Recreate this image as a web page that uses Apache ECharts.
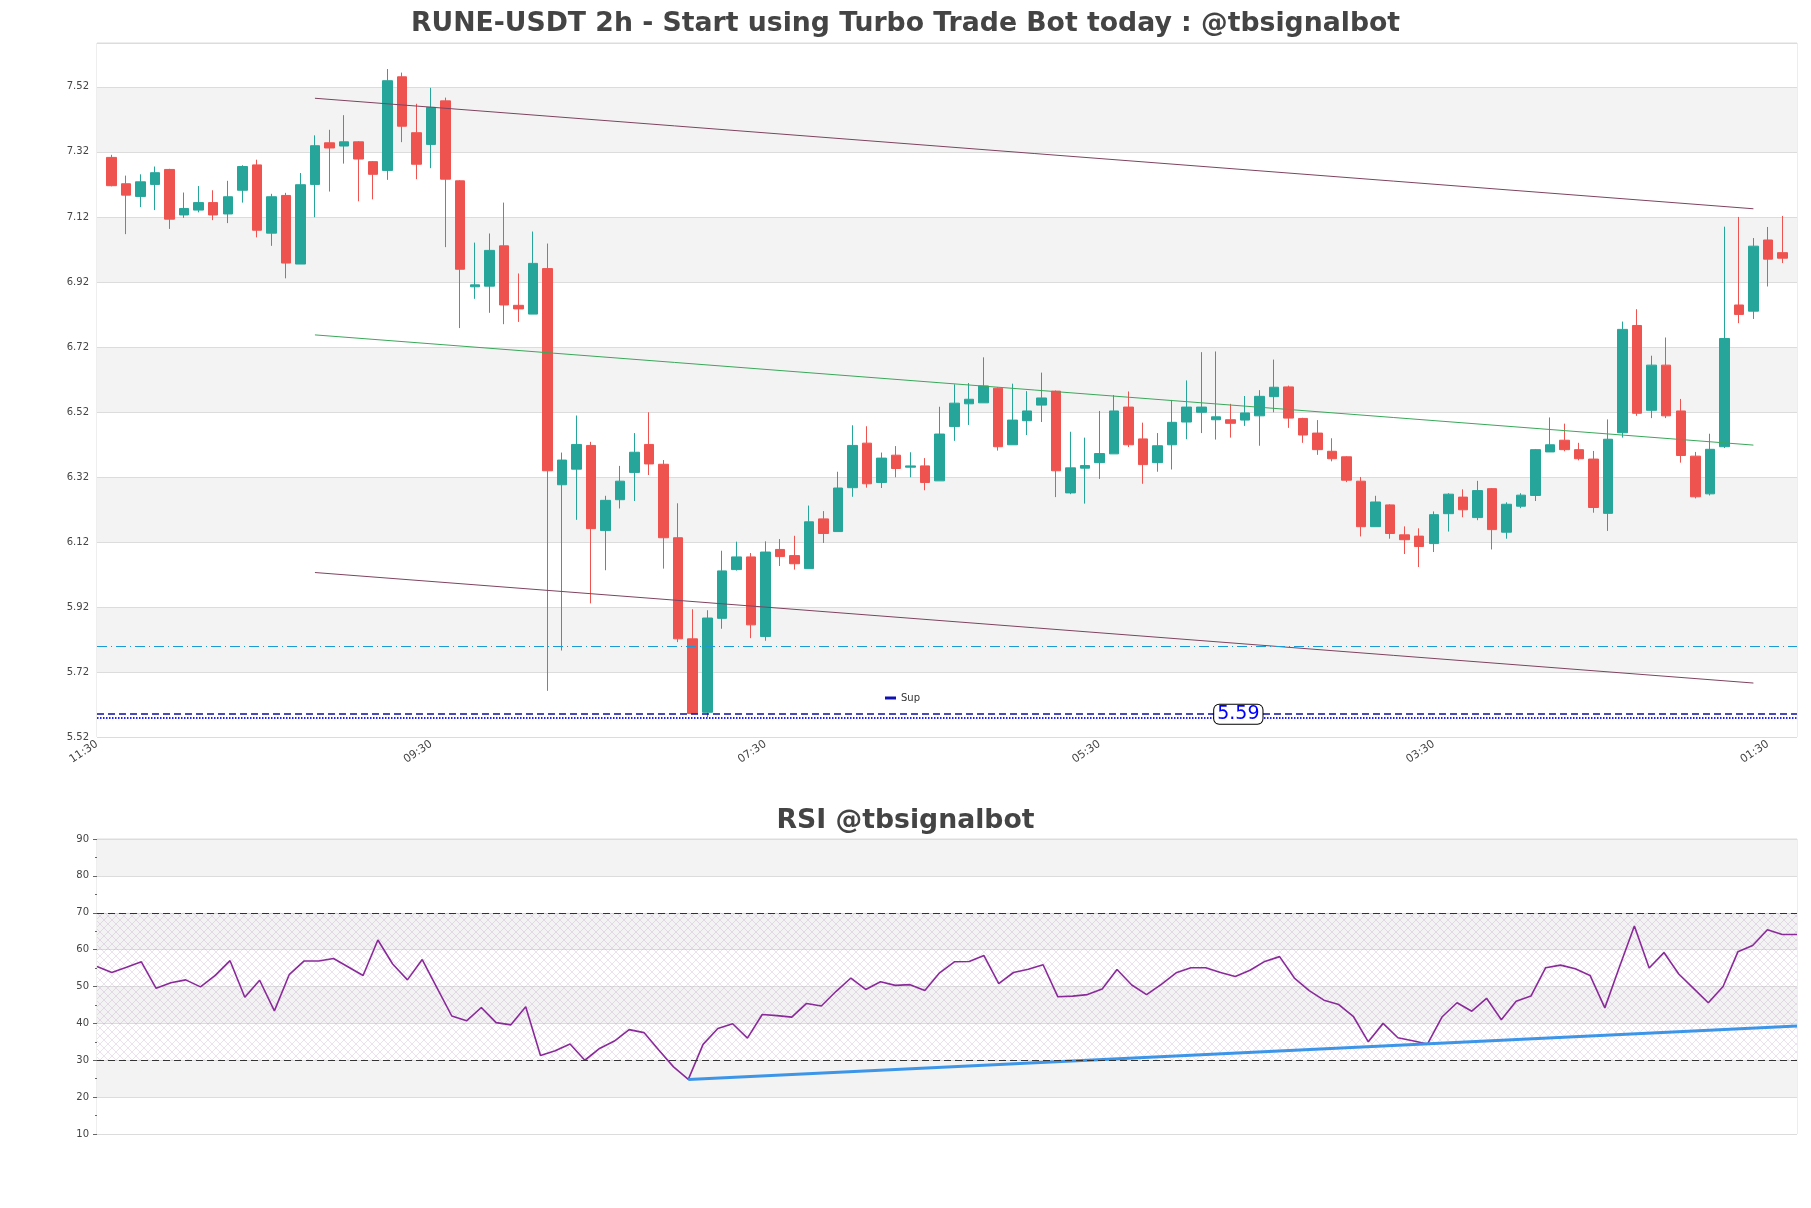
<!DOCTYPE html>
<html><head><meta charset="utf-8">
<script src="https://cdn.jsdelivr.net/npm/echarts@6/dist/echarts.min.js"></script>
<style>html,body{margin:0;padding:0;background:#fff}#c{width:1811px;height:1208px}</style>
</head><body><div id="c"></div><script>
const mainTitle = 'RUNE-USDT 2h - Start using Turbo Trade Bot today : @tbsignalbot';
const rsiTitle = 'RSI @tbsignalbot';
const startMinutes = 11 * 60 + 30;   // first category time 11:30, 2h candles
const categoryCount = 118;

const opens  = [7.303,7.222,7.183,7.220,7.266,7.126,7.141,7.164,7.129,7.202,7.280,7.070,7.186,6.975,7.220,7.348,7.338,7.351,7.290,7.263,7.551,7.379,7.343,7.477,7.231,6.905,6.907,7.031,6.848,6.821,6.961,6.296,6.344,6.417,6.155,6.250,6.334,6.420,6.359,6.133,5.822,5.596,5.885,6.035,6.074,5.829,6.097,6.078,6.038,6.191,6.152,6.287,6.424,6.303,6.387,6.350,6.354,6.308,6.475,6.545,6.548,6.593,6.419,6.493,6.541,6.584,6.271,6.347,6.364,6.391,6.535,6.437,6.364,6.419,6.489,6.519,6.496,6.496,6.495,6.508,6.567,6.597,6.500,6.455,6.399,6.382,6.307,6.167,6.234,6.142,6.138,6.115,6.207,6.258,6.195,6.284,6.150,6.230,6.263,6.397,6.433,6.404,6.375,6.208,6.456,6.786,6.525,6.664,6.523,6.384,6.268,6.413,6.849,6.830,7.049,7.010];
const closes = [7.216,7.187,7.228,7.256,7.113,7.146,7.164,7.126,7.182,7.275,7.079,7.182,6.978,7.219,7.339,7.332,7.351,7.298,7.251,7.539,7.399,7.282,7.457,7.236,6.959,6.911,7.017,6.849,6.837,6.977,6.339,6.372,6.420,6.161,6.248,6.307,6.396,6.360,6.133,5.822,5.592,5.886,6.031,6.074,5.865,6.089,6.075,6.053,6.182,6.146,6.286,6.417,6.299,6.378,6.346,6.354,6.303,6.452,6.547,6.559,6.600,6.413,6.495,6.523,6.563,6.339,6.348,6.355,6.392,6.523,6.419,6.358,6.416,6.488,6.535,6.535,6.505,6.485,6.517,6.568,6.596,6.501,6.449,6.404,6.376,6.310,6.167,6.243,6.146,6.127,6.106,6.204,6.267,6.219,6.278,6.158,6.236,6.264,6.404,6.419,6.404,6.376,6.226,6.436,6.774,6.516,6.664,6.508,6.386,6.259,6.405,6.746,6.820,7.030,6.990,6.993];
const lows   = [7.214,7.067,7.150,7.141,7.083,7.117,7.134,7.110,7.101,7.164,7.057,7.031,6.931,6.975,7.119,7.198,7.284,7.168,7.174,7.234,7.350,7.236,7.270,7.027,6.778,6.868,6.825,6.790,6.797,6.821,5.662,5.786,6.188,5.931,6.033,6.223,6.246,6.326,6.038,5.812,5.590,5.581,5.853,6.032,5.824,5.816,6.046,6.035,6.038,6.117,6.152,6.259,6.287,6.286,6.319,6.319,6.279,6.308,6.431,6.480,6.548,6.401,6.419,6.449,6.489,6.258,6.267,6.238,6.314,6.391,6.412,6.299,6.336,6.343,6.436,6.455,6.435,6.441,6.477,6.416,6.519,6.471,6.425,6.388,6.368,6.304,6.137,6.167,6.130,6.083,6.043,6.089,6.152,6.196,6.187,6.097,6.130,6.224,6.246,6.397,6.399,6.371,6.210,6.154,6.441,6.508,6.501,6.501,6.364,6.254,6.263,6.409,6.793,6.806,6.906,6.978];
const highs  = [7.311,7.247,7.251,7.275,7.268,7.195,7.215,7.202,7.231,7.279,7.296,7.191,7.194,7.255,7.371,7.388,7.433,7.353,7.292,7.575,7.564,7.468,7.517,7.487,7.233,7.041,7.069,7.164,6.946,7.075,7.038,6.395,6.509,6.428,6.262,6.354,6.455,6.519,6.372,6.239,5.913,5.910,6.093,6.121,6.086,6.122,6.129,6.139,6.232,6.215,6.336,6.479,6.476,6.395,6.415,6.396,6.378,6.536,6.605,6.609,6.688,6.596,6.607,6.584,6.641,6.586,6.459,6.441,6.523,6.572,6.583,6.487,6.455,6.557,6.617,6.704,6.706,6.545,6.569,6.587,6.681,6.601,6.502,6.495,6.439,6.384,6.320,6.262,6.236,6.168,6.162,6.214,6.270,6.282,6.308,6.286,6.242,6.270,6.406,6.503,6.484,6.425,6.400,6.497,6.798,6.836,6.693,6.749,6.560,6.397,6.453,7.090,7.120,7.055,7.089,7.123];

const rsiValues = [55.4,53.8,55.2,56.7,49.5,51.0,51.8,49.9,53.0,57.0,
  47.1,51.7,43.4,53.2,56.9,56.9,57.6,55.3,53.0,62.6,
  56.1,51.8,57.3,49.6,42.0,40.7,44.3,40.2,39.6,44.5,
  31.3,32.6,34.4,30.0,33.2,35.2,38.3,37.5,32.8,28.2,
  24.8,34.3,38.6,39.9,36.0,42.4,42.1,41.7,45.4,44.7,
  48.7,52.3,49.2,51.3,50.3,50.5,48.9,53.7,56.7,56.8,
  58.4,50.8,53.8,54.7,55.9,47.2,47.4,47.8,49.3,54.6,
  50.4,47.8,50.6,53.7,55.1,55.1,53.8,52.7,54.4,56.8,
  58.1,52.3,48.9,46.3,45.1,41.8,35.0,40.0,36.1,35.3,
  34.4,41.8,45.6,43.3,46.8,41.0,46.0,47.4,55.1,55.8,
  54.8,53.0,44.2,55.4,66.4,55.0,59.2,53.4,49.5,45.6,
  50.0,59.4,61.1,65.4,64.1,64.1];

// channel lines: [category index, price]
const channelIdx   = [15, 114];
const channelUpper = [7.485, 7.145];
const channelMid   = [6.757, 6.418];
const channelLower = [6.026, 5.686];
const supLevel = 5.59;
const lowLevel = 5.581;
const resLevel = 5.80;
const rsiTrendIdx = [40, 115];
const rsiTrendVal = [24.8, 39.3];
const rsiUpper = 70, rsiLower = 30;
const supLabelIdx = 78;

const categories = [];
for (let i = 0; i < categoryCount; i++) {
  const m = (startMinutes + i * 120) % 1440;
  categories.push(String(Math.floor(m / 60)).padStart(2, '0') + ':' + String(m % 60).padStart(2, '0'));
}
const rsiCategories = categories.slice(1, 1 + rsiValues.length);
const empty = ['-', '-', '-', '-'];
const candleData = [empty];
for (let i = 0; i < opens.length; i++) candleData.push([opens[i], closes[i], lows[i], highs[i]]);
candleData.push(empty);
const pair = (idx, vals) => idx.map((x, i) => [x, vals[i]]);

const hatch = document.createElement('canvas');
hatch.width = 8; hatch.height = 8;
const g = hatch.getContext('2d');
g.strokeStyle = 'rgba(170,120,180,0.32)';
g.lineWidth = 0.7;
g.beginPath(); g.moveTo(0, 0); g.lineTo(8, 8); g.moveTo(8, 0); g.lineTo(0, 8); g.stroke();

const FONT = 'DejaVu Sans';
const chart = echarts.init(document.getElementById('c'), null, {renderer: 'canvas'});
chart.setOption({
  animation: false,
  textStyle: {fontFamily: FONT},
  title: [
    {text: mainTitle, left: 'center', top: 6, textStyle: {fontSize: 26.7, fontWeight: 'bold', color: '#444', fontFamily: FONT}},
    {text: rsiTitle, left: 'center', top: 803, textStyle: {fontSize: 26.7, fontWeight: 'bold', color: '#444', fontFamily: FONT}}
  ],
  legend: {data: [{name: 'Sup', icon: 'rect'}], left: 880, top: 688, itemWidth: 11, itemHeight: 3,
    textStyle: {fontSize: 10, color: '#333'}},
  grid: [
    {left: 97, right: 14, top: 43, height: 694, show: true, borderColor: '#dcdcdc', borderWidth: 1},
    {left: 97, right: 14, top: 839, height: 295, show: true, borderColor: '#dcdcdc', borderWidth: 1}
  ],
  xAxis: [
    {type: 'category', gridIndex: 0, data: categories, boundaryGap: false,
      axisLine: {show: false}, axisTick: {show: false}, splitLine: {show: false},
      axisLabel: {interval: 22, rotate: 34, fontSize: 11, color: '#444', margin: 6}},
    {type: 'category', gridIndex: 1, data: rsiCategories, boundaryGap: false,
      axisLine: {show: false}, axisTick: {show: false}, axisLabel: {show: false}, splitLine: {show: false}}
  ],
  yAxis: [
    {type: 'value', gridIndex: 0, min: 5.52, max: 7.655, interval: 0.2, scale: true,
      axisLine: {show: false}, axisTick: {show: false},
      axisLabel: {fontSize: 10, color: '#444', showMaxLabel: false, formatter: v => v.toFixed(2)},
      splitLine: {lineStyle: {color: '#dcdcdc'}},
      splitArea: {show: true, areaStyle: {color: ['#ffffff', '#f3f3f3']}}},
    {type: 'value', gridIndex: 1, min: 10, max: 90, interval: 10,
      axisLine: {show: false}, axisTick: {show: true, length: 4, lineStyle: {color: '#666'}},
      minorTick: {show: true, splitNumber: 2, length: 2, lineStyle: {color: '#666'}},
      axisLabel: {fontSize: 10, color: '#444'},
      splitLine: {lineStyle: {color: '#dcdcdc'}},
      splitArea: {show: true, areaStyle: {color: ['#ffffff', '#f3f3f3']}}}
  ],
  series: [
    {name: 'candles', type: 'candlestick', xAxisIndex: 0, yAxisIndex: 0, data: candleData, barWidth: 10,
      itemStyle: {color: '#26a69a', color0: '#ef5350', borderColor: '#26a69a', borderColor0: '#ef5350', borderWidth: 1},
      markLine: {silent: true, symbol: 'none', label: {show: false},
        data: [{yAxis: resLevel, lineStyle: {color: '#1a9ad6', type: [10, 4, 1, 4], width: 1.2}}]}},
    {name: 'upper', type: 'line', xAxisIndex: 0, yAxisIndex: 0, data: pair(channelIdx, channelUpper),
      showSymbol: false, lineStyle: {color: '#7e4460', width: 1}},
    {name: 'mid', type: 'line', xAxisIndex: 0, yAxisIndex: 0, data: pair(channelIdx, channelMid),
      showSymbol: false, lineStyle: {color: '#3aa85a', width: 1}},
    {name: 'lower', type: 'line', xAxisIndex: 0, yAxisIndex: 0, data: pair(channelIdx, channelLower),
      showSymbol: false, lineStyle: {color: '#7e4460', width: 1}},
    {name: 'Sup', type: 'line', xAxisIndex: 0, yAxisIndex: 0, data: [], itemStyle: {color: '#1010b0'},
      markLine: {silent: true, symbol: 'none', label: {show: false},
        data: [
          {yAxis: supLevel, lineStyle: {color: '#1010a0', type: [7, 4], width: 1.5}},
          {yAxis: lowLevel, lineStyle: {color: '#2020ff', type: [1.5, 1.5], width: 2}}
        ]},
      markPoint: {silent: true, symbol: 'rect', symbolSize: 1, itemStyle: {color: 'rgba(0,0,0,0)'},
        data: [{coord: [supLabelIdx, supLevel],
          label: {show: true, position: 'inside', offset: [8, 0], formatter: supLevel.toFixed(2), color: '#0000ff',
            fontSize: 19, backgroundColor: '#fff', borderColor: '#000', borderWidth: 1, borderRadius: 5, padding: [0, 3]}}]}},
    {name: 'RSI', type: 'line', xAxisIndex: 1, yAxisIndex: 1, data: rsiValues, showSymbol: false,
      lineStyle: {color: '#8a2a9a', width: 1.6},
      markLine: {silent: true, symbol: 'none', label: {show: false},
        lineStyle: {color: '#333', type: [7, 4], width: 1},
        data: [{yAxis: rsiUpper}, {yAxis: rsiLower}]},
      markArea: {silent: true, itemStyle: {color: {image: hatch, repeat: 'repeat'}},
        data: [[{yAxis: rsiLower}, {yAxis: rsiUpper}]]}},
    {name: 'rsiTrend', type: 'line', xAxisIndex: 1, yAxisIndex: 1, data: pair(rsiTrendIdx, rsiTrendVal),
      showSymbol: false, lineStyle: {color: '#3d95e8', width: 3}}
  ]
});
</script></body></html>
